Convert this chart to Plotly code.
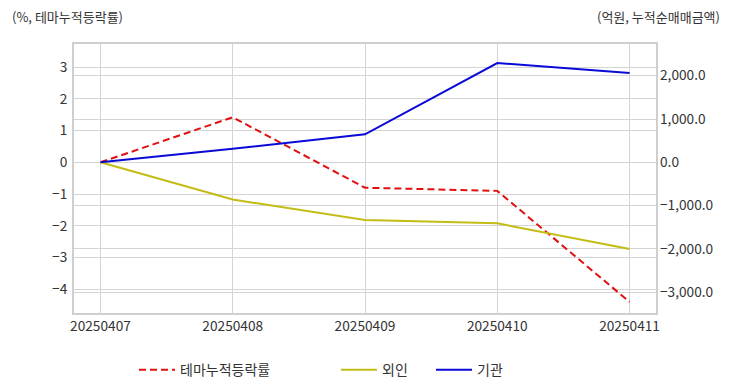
import plotly.graph_objects as go

dates = ["20250407", "20250408", "20250409", "20250410", "20250411"]
theme_rate = [0.0, 1.42, -0.80, -0.90, -4.40]
foreign = [0.0, -860.0, -1333.0, -1409.0, -2000.0]
institution = [0.0, 314.0, 647.0, 2293.0, 2062.0]

left_ticks = [-4, -3, -2, -1, 0, 1, 2, 3]
right_ticks = [-3000, -2000, -1000, 0, 1000, 2000]

FONT = "Noto Sans CJK KR"
GRID = "#d4d4d4"
TICK_SIZE = 13.7

fig = go.Figure()
fig.add_trace(go.Scatter(x=dates, y=theme_rate, name="테마누적등락률", mode="lines",
                         line=dict(color="#e01010", width=2, dash="7px,4px"),
                         yaxis="y", legend="legend"))
fig.add_trace(go.Scatter(x=dates, y=foreign, name="외인", mode="lines",
                         line=dict(color="#c4bc14", width=2),
                         yaxis="y2", legend="legend2"))
fig.add_trace(go.Scatter(x=dates, y=institution, name="기관", mode="lines",
                         line=dict(color="#0a0ad6", width=2),
                         yaxis="y2", legend="legend3"))

legend_common = dict(orientation="h", yanchor="middle", y=-0.212, xanchor="left",
                     font=dict(family=FONT, size=14, color="#333"),
                     bgcolor="rgba(0,0,0,0)", itemwidth=36)

fig.update_layout(
    width=732, height=392,
    margin=dict(l=74, r=76, t=44, b=79, autoexpand=False),
    paper_bgcolor="white", plot_bgcolor="white",
    font=dict(family=FONT, size=13, color="#333"),
    xaxis=dict(type="category", range=[-0.2, 4.2], showgrid=True, gridcolor=GRID,
               showline=True, linecolor="#cfcfcf", linewidth=2, mirror=True,
               ticks="", tickfont=dict(size=TICK_SIZE, color="#333"), zeroline=False,
               automargin=False),
    yaxis=dict(range=[-4.75, 3.73], tickvals=left_ticks, showgrid=True, gridcolor=GRID,
               showline=True, linecolor="#cfcfcf", linewidth=2, mirror=True,
               ticks="", ticklabelstandoff=2, automargin=False,
               zeroline=False, tickfont=dict(size=TICK_SIZE, color="#333")),
    yaxis2=dict(range=[-3480, 2732], tickvals=right_ticks, tickformat=",.1f",
                overlaying="y", side="right", showgrid=True, gridcolor=GRID,
                zeroline=False, ticks="", ticklabelstandoff=3, automargin=False,
                tickfont=dict(size=TICK_SIZE, color="#333")),
    legend=dict(legend_common, x=(139 - 74 - 5) / 582),
    legend2=dict(legend_common, x=(341 - 74 - 5) / 582),
    legend3=dict(legend_common, x=(436 - 74 - 5) / 582),
    showlegend=True,
    annotations=[
        dict(text="(%, 테마누적등락률)", xref="paper", yref="paper", x=-74 / 582 + 10 / 582,
             y=1 + (44 - 16) / 269, xanchor="left", yanchor="middle", showarrow=False,
             font=dict(family=FONT, size=13, color="#333")),
        dict(text="(억원, 누적순매매금액)", xref="paper", yref="paper", x=1 + (722 - 656) / 582,
             y=1 + (44 - 16) / 269, xanchor="right", yanchor="middle", showarrow=False,
             font=dict(family=FONT, size=13, color="#333")),
    ],
)

fig.write_html("out.html", config={"displayModeBar": False},
               post_script="document.body.style.margin='0px';")
